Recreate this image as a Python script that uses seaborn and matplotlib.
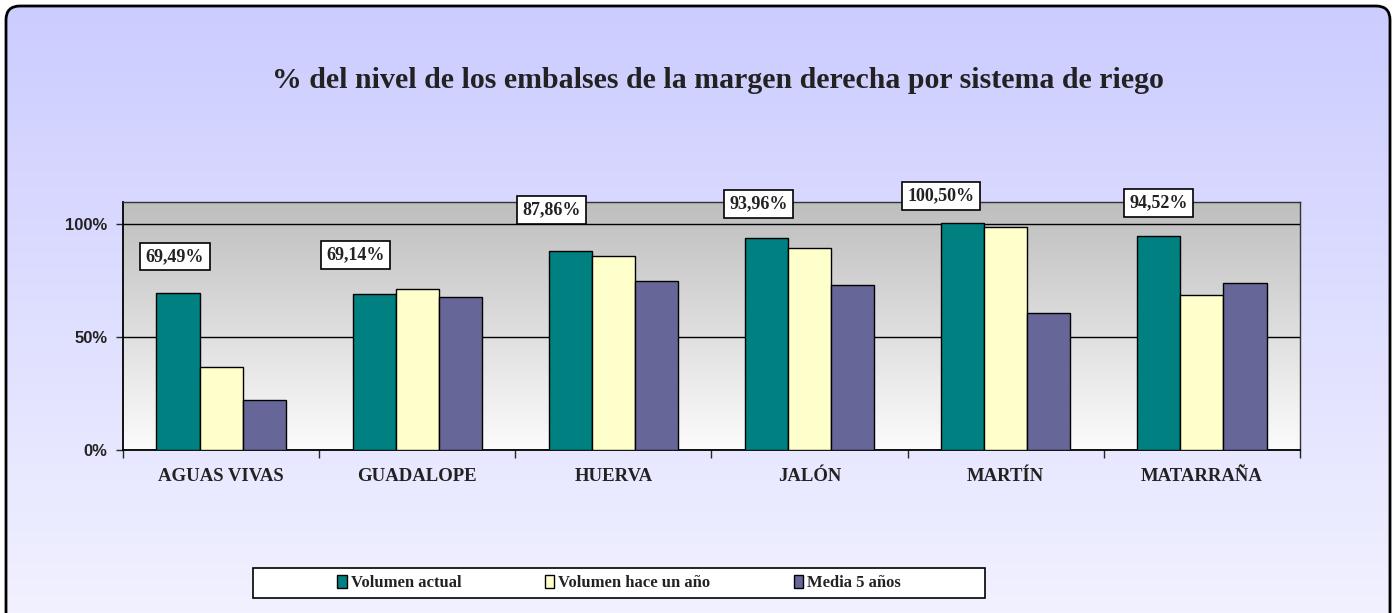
import numpy as np
import pandas as pd
import seaborn as sns
import matplotlib.pyplot as plt
from matplotlib.patches import FancyBboxPatch, Rectangle, Patch

# data
sistemas = ["AGUAS VIVAS", "GUADALOPE", "HUERVA", "JALÓN", "MARTÍN", "MATARRAÑA"]
series = ["Volumen actual", "Volumen hace un año", "Media 5 años"]
vol_actual = [69.49, 69.14, 87.86, 93.96, 100.50, 94.52]
vol_hace_un_ano = [36.7, 71.1, 86.0, 89.2, 98.7, 68.4]
media_5_anos = [21.8, 67.8, 74.8, 72.9, 60.4, 74.0]
colors = ["#008080", "#FFFFCC", "#666699"]

# where Excel left the data labels (offset from category, y in %)
label_dx = [-0.235, -0.316, -0.316, -0.26, -0.33, -0.22]
label_y = [85.6, 86.4, 106.4, 109.0, 112.6, 109.5]

df = pd.DataFrame({
    "sistema": sistemas * 3,
    "serie": [series[0]] * 6 + [series[1]] * 6 + [series[2]] * 6,
    "valor": vol_actual + vol_hace_un_ano + media_5_anos,
})

sns.set_style("white")
serif = ["Liberation Serif", "DejaVu Serif"]
sans = ["Liberation Sans", "DejaVu Sans"]

W, H = 1395, 613
fig = plt.figure(figsize=(W / 100, H / 100), dpi=100)
fig.patch.set_facecolor("white")

# background: lavender gradient inside a rounded frame
bg = fig.add_axes([0, 0, 1, 1], zorder=-5)
bg.set_xlim(0, W)
bg.set_ylim(H, 0)
bg.axis("off")
frame = FancyBboxPatch((6, 6), 1384, 640, boxstyle="round,pad=0,rounding_size=14",
                       facecolor="none", edgecolor="black", linewidth=2, zorder=3)
bg.add_patch(frame)
grad = np.linspace(0, 1, 256)[:, None]
top_c = np.array([204, 204, 255]) / 255
bot_c = np.array([243, 243, 255]) / 255
img = top_c + (bot_c - top_c) * grad[..., None]
im = bg.imshow(img, extent=(6, 1390, 646, 6), aspect="auto", zorder=1)
im.set_clip_path(frame)

# legend frame
bg.add_patch(Rectangle((253, 568), 732, 30, facecolor="white", edgecolor="black",
                       linewidth=1.2, zorder=4))

ax = fig.add_axes([123 / W, 1 - 449.5 / H, 1177 / W, 248 / H])
ax.set_facecolor("none")

sns.barplot(data=df, x="sistema", y="valor", hue="serie", palette=colors,
            width=0.66, saturation=1, edgecolor="black", linewidth=1,
            errorbar=None, legend=False, ax=ax, zorder=3)

ax.set_xlim(-0.5, 5.5)
ax.set_ylim(0, 110)

# grey plot-area gradient (dark at top, white at bottom)
pg = np.linspace(0.745, 0.985, 256)[:, None]
ax.imshow(np.dstack([pg, pg, pg]), extent=(-0.5, 5.5, 0, 110), aspect="auto",
          origin="upper", zorder=-2)

ax.set_yticks([0, 50, 100])
ax.set_yticklabels(["0%", "50%", "100%"])
ax.yaxis.grid(True, color="black", linewidth=1)
ax.set_axisbelow(True)
ax.tick_params(axis="y", left=True, length=5, width=1, pad=6, labelsize=12)
for t in ax.get_yticklabels():
    t.set_family(sans)
    t.set_fontweight("bold")
    t.set_color("#222222")

ax.set_xticks(range(6))
ax.set_xticklabels(sistemas)
ax.set_xticks(np.arange(-0.5, 6, 1), minor=True)
ax.tick_params(axis="x", which="major", length=0, pad=13, labelsize=13.5)
ax.tick_params(axis="x", which="minor", bottom=True, length=6, width=1)
for t in ax.get_xticklabels():
    t.set_family(serif)
    t.set_fontweight("bold")
    t.set_color("#222222")

ax.set_xlabel("")
ax.set_ylabel("")
for side in ["top", "right"]:
    ax.spines[side].set_color("#333333")
    ax.spines[side].set_linewidth(1)
for side in ["left", "bottom"]:
    ax.spines[side].set_color("black")
    ax.spines[side].set_linewidth(1.3)

# data labels
for i, v in enumerate(vol_actual):
    txt = f"{v:.2f}".replace(".", ",") + "%"
    ax.text(i + label_dx[i], label_y[i], txt, ha="center", va="center",
            fontsize=13, fontweight="bold", family=serif, color="#222222",
            zorder=6, clip_on=False,
            bbox=dict(boxstyle="square,pad=0.3", facecolor="white",
                      edgecolor="black", linewidth=1.2))

fig.text(718 / W, 1 - 80 / H,
         "% del nivel de los embalses de la margen derecha por sistema de riego",
         ha="center", va="center", fontsize=21.5, fontweight="bold",
         family=serif, color="#222222")

handles = [Patch(facecolor=c, edgecolor="black", linewidth=1) for c in colors]
leg = fig.legend(handles, series, loc="center", bbox_to_anchor=(619 / W, 1 - 583 / H),
                 ncol=3, frameon=False, handlelength=0.55, handleheight=0.8,
                 handletextpad=0.25, columnspacing=5.0,
                 prop={"family": serif, "weight": "bold", "size": 12})
for t in leg.get_texts():
    t.set_color("#222222")

fig.savefig("out.png", dpi=100)
